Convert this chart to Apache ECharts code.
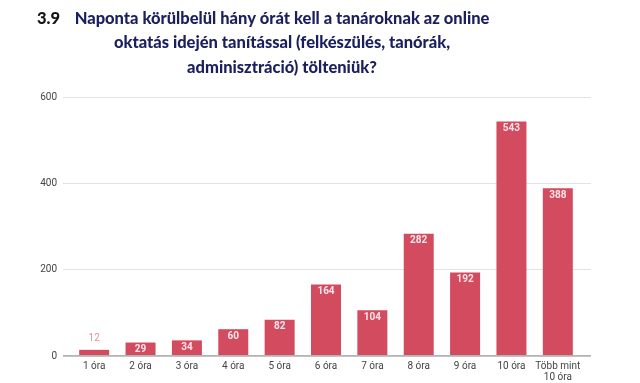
<!DOCTYPE html>
<html><head><meta charset="utf-8">
<script src="https://cdn.jsdelivr.net/npm/echarts@6/dist/echarts.min.js"></script>
<style>html,body{margin:0;padding:0;background:#fff}#c{width:640px;height:383px}</style>
</head><body><div id="c"></div>
<script>
const categories = ['1 óra','2 óra','3 óra','4 óra','5 óra','6 óra','7 óra','8 óra','9 óra','10 óra','Több mint\n10 óra'];
const values = [12, 29, 34, 60, 82, 164, 104, 282, 192, 543, 388];
const yTicks = [0, 200, 400, 600];
const titleLines = ['Naponta körülbelül hány órát kell a tanároknak az online','oktatás idején tanítással (felkészülés, tanórák,','adminisztráció) tölteniük?'];
const titleNumber = '3.9';

const barColor = '#d34b5f';
const chart = echarts.init(document.getElementById('c'), null, {renderer:'canvas'});
const data = values.map(v => {
  const small = v < 20;
  return {value: v, label: small ? {position:'top', color:'#e0909c', fontWeight:'normal', distance:6} : {}};
});
chart.setOption({
  animation:false,
  backgroundColor:'#fff',
  title:[{
    text: titleLines.join('\n'),
    left: 277, top: 1, textAlign:'center',
    textStyle:{fontFamily:'Lato', fontWeight:900, fontSize:16.5, lineHeight:24.5, color:'#1b1f5e'}
  },{
    text: titleNumber, left: 32, top: 1,
    textStyle:{fontFamily:'Lato', fontWeight:900, fontSize:16.5, lineHeight:24.5, color:'#141414'}
  }],
  grid:[
    {left:71, right:59, top:97, bottom:27},
    {left:63, right:49, top:97, bottom:27}
  ],
  xAxis:[
    {type:'category', gridIndex:0, data:categories,
     axisLine:{show:false}, axisTick:{show:false},
     axisLabel:{color:'#444', fontSize:10, margin:6, lineHeight:11, fontFamily:'Roboto', interval:0}},
    {type:'value', gridIndex:1, show:false, min:0, max:1}
  ],
  yAxis:[
    {type:'value', gridIndex:0, min:0, max:600, interval:200, show:false},
    {type:'value', gridIndex:1, min:yTicks[0], max:yTicks[yTicks.length-1], interval:200,
     axisLine:{show:false}, axisTick:{show:false},
     axisLabel:{color:'#444', fontSize:10, margin:6, fontFamily:'Roboto'},
     splitLine:{lineStyle:{color:'#e3e3e3', width:1}}}
  ],
  series:[
    {type:'line', xAxisIndex:1, yAxisIndex:1, data:[[0,0],[1,0]], symbol:'none',
     lineStyle:{color:'#666', width:1}, silent:true, z:3},
    {type:'bar', xAxisIndex:0, yAxisIndex:0, data:data, barWidth:30,
     itemStyle:{color:barColor},
     label:{show:true, position:'insideTop', distance:2, color:'#fde6ea', fontSize:10, fontFamily:'Roboto', fontWeight:'bold'},
     z:2}
  ]
});
</script></body></html>
